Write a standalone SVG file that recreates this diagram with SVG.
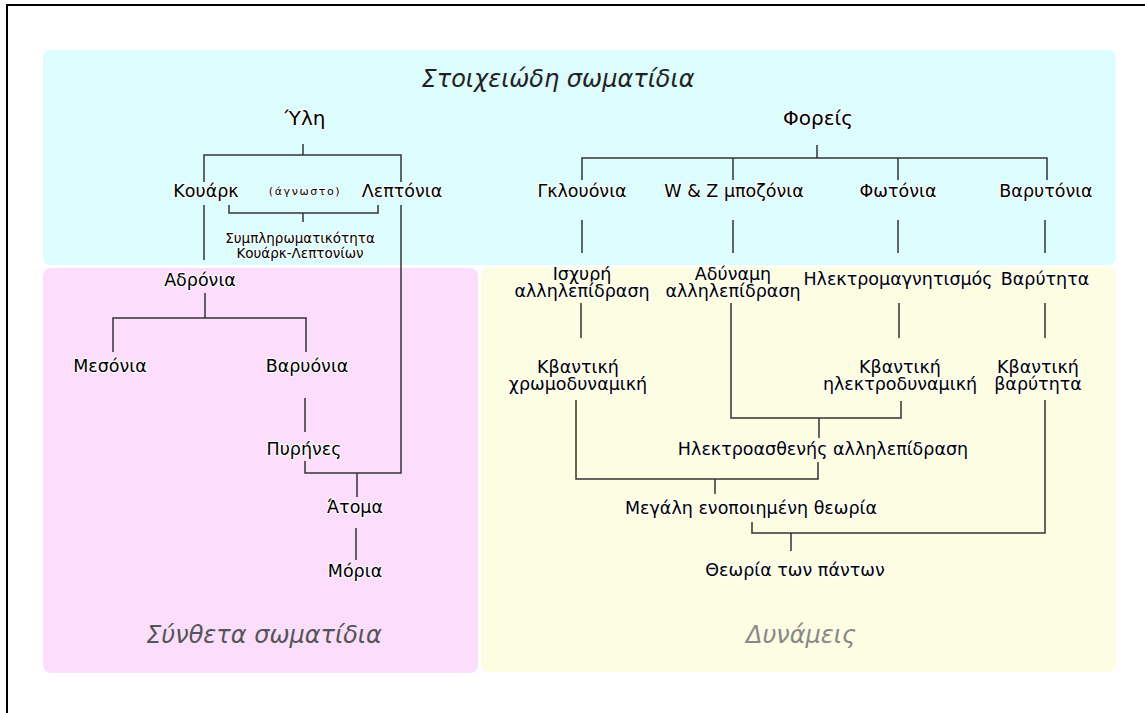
<svg xmlns="http://www.w3.org/2000/svg" width="1145" height="713" viewBox="0 0 1145 713">
<style>
.t{font-family:"DejaVu Sans","Noto Sans",sans-serif;font-size:17.5px;fill:#000;text-anchor:middle;stroke:#fff;stroke-width:2.5;stroke-opacity:0.75;paint-order:stroke;stroke-linejoin:round}
.b{font-size:20px}
.s{font-size:13.5px}
.xs{font-size:11px;letter-spacing:1.6px}
.h{font-family:"DejaVu Sans","Noto Sans",sans-serif;font-style:italic;font-size:24px;text-anchor:middle}
.c path{fill:none;stroke:#333;stroke-width:1.5}
</style>
<rect width="1145" height="713" fill="#fff"/>
<path d="M7,713 V5 H1145" fill="none" stroke="#000" stroke-width="2"/>
<g id="panel-elementary"><rect x="43" y="50" width="1073" height="215" rx="8" fill="#dcfcfe"/><text class="h" x="558" y="87" fill="#222">Στοιχειώδη σωματίδια</text></g>
<g id="panel-composite"><rect x="43" y="268" width="435" height="405" rx="8" fill="#fcdefc"/><text class="h" x="264" y="643" fill="#555">Σύνθετα σωματίδια</text></g>
<g id="panel-forces"><rect x="481" y="267" width="635" height="405" rx="8" fill="#fdfde3"/><text class="h" x="801" y="643" fill="#888">Δυνάμεις</text></g>
<g class="c" id="connectors">
<path d="M303,144V155 M204,182V155H401V182"/>
<path d="M229,205V213H378V205 M303,213V222"/>
<path d="M204,205V260"/>
<path d="M205,293V318 M113,352V318H306V352"/>
<path d="M305,398V432"/>
<path d="M305,461V473H401V205 M357,473V497"/>
<path d="M356,528V560"/>
<path d="M817,145V158 M582,180V158H1047V180 M733,158V180 M898,158V180"/>
<path d="M582,220V253 M733,220V253 M898,220V253 M1045,220V253"/>
<path d="M581,303V338 M899,303V338 M1045,303V338"/>
<path d="M731,303V418H901V401 M819,418V438"/>
<path d="M576,400V479H818V462 M715,479V494"/>
<path d="M752,522V533H1045V400 M791,533V551"/>
</g>
<g id="n-yli"><text class="t b" x="305" y="125">Ύλη</text></g>
<g id="n-kouark"><text class="t" x="206" y="197">Κουάρκ</text></g>
<g id="n-agnosto"><text class="t xs" x="305" y="195">(άγνωστο)</text></g>
<g id="n-leptonia"><text class="t" x="402" y="197">Λεπτόνια</text></g>
<g id="n-symplirom"><text class="t s" x="300" y="243">Συμπληρωματικότητα<tspan x="300" y="258">Κουάρκ-Λεπτονίων</tspan></text></g>
<g id="n-adronia"><text class="t" x="200" y="286">Αδρόνια</text></g>
<g id="n-mesonia"><text class="t" x="110" y="372">Μεσόνια</text></g>
<g id="n-baryonia"><text class="t" x="307" y="372">Βαρυόνια</text></g>
<g id="n-pyrines"><text class="t" x="304" y="455">Πυρήνες</text></g>
<g id="n-atoma"><text class="t" x="355" y="513">Άτομα</text></g>
<g id="n-moria"><text class="t" x="355" y="577">Μόρια</text></g>
<g id="n-foreis"><text class="t b" x="818" y="125">Φορείς</text></g>
<g id="n-gluonia"><text class="t" x="582" y="197">Γκλουόνια</text></g>
<g id="n-wz"><text class="t" x="734" y="197">W &amp; Z μποζόνια</text></g>
<g id="n-fotonia"><text class="t" x="898" y="197">Φωτόνια</text></g>
<g id="n-barytonia"><text class="t" x="1046" y="197">Βαρυτόνια</text></g>
<g id="n-strong"><text class="t" x="582" y="280">Ισχυρή<tspan x="582" y="297">αλληλεπίδραση</tspan></text></g>
<g id="n-weak"><text class="t" x="733" y="280">Αδύναμη<tspan x="733" y="297">αλληλεπίδραση</tspan></text></g>
<g id="n-em"><text class="t" x="898" y="285">Ηλεκτρομαγνητισμός</text></g>
<g id="n-gravity"><text class="t" x="1045" y="285">Βαρύτητα</text></g>
<g id="n-qcd"><text class="t" x="578" y="373">Κβαντική<tspan x="578" y="390">χρωμοδυναμική</tspan></text></g>
<g id="n-qed"><text class="t" x="900" y="373">Κβαντική<tspan x="900" y="390">ηλεκτροδυναμική</tspan></text></g>
<g id="n-qg"><text class="t" x="1038" y="373">Κβαντική<tspan x="1038" y="390">βαρύτητα</tspan></text></g>
<g id="n-electroweak"><text class="t" x="823" y="455">Ηλεκτροασθενής αλληλεπίδραση</text></g>
<g id="n-gut"><text class="t" x="751" y="514">Μεγάλη ενοποιημένη θεωρία</text></g>
<g id="n-toe"><text class="t" x="795" y="576">Θεωρία των πάντων</text></g>
</svg>
